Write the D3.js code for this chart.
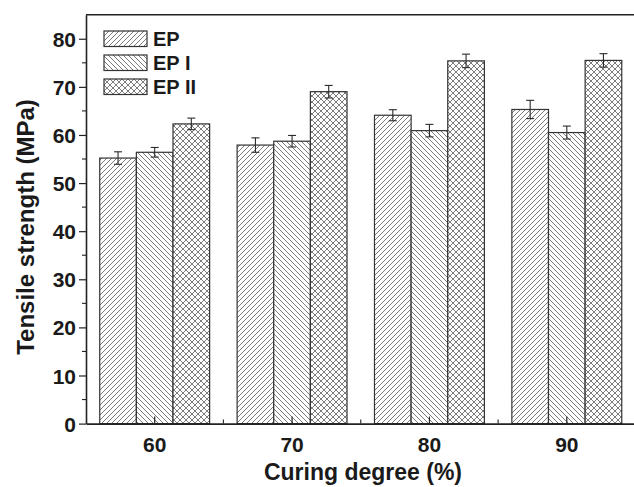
<!DOCTYPE html>
<html>
<head>
<meta charset="utf-8">
<title>Tensile strength vs curing degree</title>
<script src="https://d3js.org/d3.v7.min.js"></script>
<style>
  body { margin: 0; background: #fff; }
  text { font-family: "Liberation Sans", Arial, sans-serif; font-weight: bold; fill: #1a1a1a; }
</style>
</head>
<body>
<div id="chart"></div>
<script>
  // data
  const categories = [60, 70, 80, 90];
  const seriesNames = ["EP", "EP I", "EP II"];
  const epMeans  = [55.2, 57.9, 64.1, 65.3];
  const epErr    = [1.3, 1.5, 1.15, 1.9];
  const ep1Means = [56.4, 58.7, 60.9, 60.5];
  const ep1Err   = [1.0, 1.2, 1.3, 1.35];
  const ep2Means = [62.3, 69.0, 75.4, 75.5];
  const ep2Err   = [1.2, 1.3, 1.4, 1.4];
  const yTicks = [0, 10, 20, 30, 40, 50, 60, 70, 80];
  const yMinorTicks = [5, 15, 25, 35, 45, 55, 65, 75];

  const means = [epMeans, ep1Means, ep2Means];
  const errs = [epErr, ep1Err, ep2Err];
  const patterns = ["hatchFwd", "hatchBack", "hatchCross"];

  const W = 634, H = 487;
  const plotLeft = 86, plotRight = 635.5, plotTop = 14.7, plotBottom = 423.6;

  const svg = d3.select("#chart").append("svg")
    .attr("width", W).attr("height", H);

  // hatch patterns
  const defs = svg.append("defs");
  function addPattern(id, paths, size) {
    const p = defs.append("pattern")
      .attr("id", id)
      .attr("patternUnits", "userSpaceOnUse")
      .attr("width", size).attr("height", size);
    p.append("rect").attr("width", size).attr("height", size).attr("fill", "#fff");
    paths.forEach(d => p.append("path").attr("d", d)
      .attr("stroke", "#5a5a5a").attr("stroke-width", 0.8).attr("fill", "none"));
  }
  addPattern("hatchFwd", ["M0,5 L5,0", "M-1,1 L1,-1", "M4,6 L6,4"], 5);
  addPattern("hatchBack", ["M0,0 L5,5", "M-1,4 L1,6", "M4,-1 L6,1"], 5);
  addPattern("hatchCross", ["M0,0 L6,6", "M0,6 L6,0"], 6);

  // scales
  const x = d3.scaleBand()
    .domain(categories)
    .range([plotLeft, plotRight])
    .paddingInner(0.2)
    .paddingOuter(0.1);

  const xs = d3.scaleBand()
    .domain(seriesNames)
    .range([0, x.bandwidth()])
    .padding(0);

  const y = d3.scaleLinear()
    .domain([0, 85])
    .range([plotBottom, plotTop]);

  // bars
  seriesNames.forEach((s, si) => {
    svg.append("g").selectAll("rect")
      .data(categories)
      .enter().append("rect")
      .attr("x", (c) => x(c) + xs(s))
      .attr("y", (c, i) => y(means[si][i]))
      .attr("width", xs.bandwidth())
      .attr("height", (c, i) => y(0) - y(means[si][i]))
      .attr("fill", `url(#${patterns[si]})`)
      .attr("stroke", "#333")
      .attr("stroke-width", 1.2);
  });

  // error bars
  seriesNames.forEach((s, si) => {
    const g = svg.append("g").attr("stroke", "#2a2a2a").attr("stroke-width", 1.1);
    categories.forEach((c, i) => {
      const cx = x(c) + xs(s) + xs.bandwidth() / 2;
      const hi = y(means[si][i] + errs[si][i]);
      const lo = y(means[si][i] - errs[si][i]);
      g.append("line").attr("x1", cx).attr("x2", cx).attr("y1", hi).attr("y2", lo);
      g.append("line").attr("x1", cx - 4).attr("x2", cx + 4).attr("y1", hi).attr("y2", hi);
      g.append("line").attr("x1", cx - 4).attr("x2", cx + 4).attr("y1", lo).attr("y2", lo);
    });
  });

  // y axis
  const yAxis = svg.append("g")
    .attr("transform", `translate(${plotLeft},0)`)
    .attr("font-size", 21)
    .call(d3.axisLeft(y).tickValues(yTicks).tickSize(7).tickSizeOuter(0).tickPadding(3));
  yAxis.attr("font-size", 21).attr("font-family", null);
  yAxis.select(".domain").attr("stroke", "#222").attr("stroke-width", 1.6);
  yAxis.selectAll(".tick line").attr("stroke", "#222").attr("stroke-width", 1.2);
  yAxis.selectAll(".tick text").attr("fill", "#1a1a1a").attr("dy", "0.36em");

  svg.append("g").selectAll("line")
    .data(yMinorTicks)
    .enter().append("line")
    .attr("x1", plotLeft - 4).attr("x2", plotLeft)
    .attr("y1", d => y(d)).attr("y2", d => y(d))
    .attr("stroke", "#222").attr("stroke-width", 1.1);

  // x axis (ticks point inward)
  const xAxis = svg.append("g")
    .attr("transform", `translate(0,${plotBottom})`)
    .call(d3.axisBottom(x).tickSize(-7).tickSizeOuter(0).tickPadding(13));
  xAxis.attr("font-size", 21).attr("font-family", null);
  xAxis.select(".domain").attr("stroke", "#222").attr("stroke-width", 1.6);
  xAxis.selectAll(".tick line").attr("stroke", "#222").attr("stroke-width", 1.2);
  xAxis.selectAll(".tick text").attr("fill", "#1a1a1a");

  // minor ticks between groups
  const minorX = categories.slice(1).map(c => x(c) - x.step() * x.paddingInner() / 2);
  svg.append("g").selectAll("line")
    .data(minorX)
    .enter().append("line")
    .attr("x1", d => d).attr("x2", d => d)
    .attr("y1", plotBottom).attr("y2", plotBottom - 4)
    .attr("stroke", "#222").attr("stroke-width", 1.1);

  // top frame line
  svg.append("line")
    .attr("x1", plotLeft).attr("x2", W)
    .attr("y1", plotTop).attr("y2", plotTop)
    .attr("stroke", "#222").attr("stroke-width", 1.6);

  // axis titles
  svg.append("text")
    .attr("x", (plotLeft + W) / 2 + 3)
    .attr("y", 480)
    .attr("text-anchor", "middle")
    .attr("font-size", 23)
    .text("Curing degree (%)");

  svg.append("text")
    .attr("transform", `translate(34,${227}) rotate(-90)`)
    .attr("text-anchor", "middle")
    .attr("font-size", 24)
    .text("Tensile strength (MPa)");

  // legend
  const legend = svg.append("g").attr("transform", "translate(104,31)");
  seriesNames.forEach((s, i) => {
    legend.append("rect")
      .attr("x", 0).attr("y", i * 24)
      .attr("width", 43).attr("height", 15.5)
      .attr("fill", `url(#${patterns[i]})`)
      .attr("stroke", "#333").attr("stroke-width", 1.2);
    legend.append("text")
      .attr("x", 49).attr("y", i * 24 + 15)
      .attr("font-size", 20)
      .text(s);
  });
</script>
</body>
</html>
